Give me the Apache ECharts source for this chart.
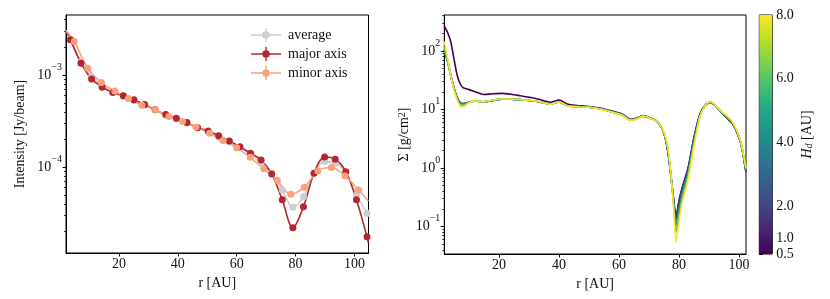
<!DOCTYPE html>
<html><head><meta charset="utf-8">
<script src="https://cdn.jsdelivr.net/npm/echarts@6/dist/echarts.min.js"></script>
<style>html,body{margin:0;padding:0;background:#fff}#c{width:830px;height:299px}</style>
</head><body><div id="c"></div>
<script>
// ---------- left panel: intensity profiles ----------
const majorR = [3.5, 7.1, 10.7, 14.3, 17.9, 21.5, 25.1, 28.7, 32.3, 35.9, 39.5, 43.1, 46.7, 50.3, 53.9, 57.5, 61.1, 64.7, 68.3, 71.9, 75.5, 79.1, 82.7, 86.3, 89.9, 93.5, 97.1, 100.7, 104.3];
const majorI = [2.42e-3, 1.35e-3, 9.06e-4, 7.41e-4, 6.47e-4, 5.96e-4, 5.40e-4, 4.79e-4, 4.20e-4, 3.73e-4, 3.41e-4, 3.05e-4, 2.69e-4, 2.48e-4, 2.20e-4, 1.93e-4, 1.67e-4, 1.42e-4, 1.20e-4, 8.45e-5, 4.42e-5, 2.20e-5, 3.73e-5, 8.61e-5, 1.29e-4, 1.22e-4, 8.95e-5, 4.42e-5, 1.76e-5];
const averageI = [2.45e-3, 1.40e-3, 9.6e-4, 7.7e-4, 6.6e-4, 5.85e-4, 5.3e-4, 4.75e-4, 4.2e-4, 3.7e-4, 3.35e-4, 3.0e-4, 2.68e-4, 2.42e-4, 2.12e-4, 1.88e-4, 1.63e-4, 1.37e-4, 1.10e-4, 8.6e-5, 5.66e-5, 3.67e-5, 4.78e-5, 8.6e-5, 1.15e-4, 1.10e-4, 8.6e-5, 5.0e-5, 3.16e-5];
const minorR = [4.8, 9.4, 14.0, 18.6, 23.2, 27.8, 32.4, 37.0, 41.6, 46.2, 50.8, 55.4, 60.0, 64.6, 69.2, 73.8, 78.4, 83.0, 87.6, 92.2, 96.8, 101.4];
const minorI = [2.32e-3, 1.19e-3, 8.31e-4, 6.72e-4, 5.57e-4, 4.72e-4, 4.20e-4, 3.55e-4, 3.13e-4, 2.72e-4, 2.34e-4, 1.95e-4, 1.63e-4, 1.28e-4, 9.6e-5, 7.15e-5, 5.09e-5, 6.07e-5, 9.12e-5, 9.91e-5, 8.04e-5, 5.66e-5];
// curve values where the lines leave the frame (left edge r=2, right edge r=104.8)
const edgeR = [2, 104.8];
const majorEdge = [3.05e-3, 1.5e-5];
const averageEdge = [3.05e-3, 2.9e-5];
const minorEdge = [3.05e-3, 4.3e-5];
const seriesNames = ['average', 'major axis', 'minor axis'];

// ---------- right panel: surface density for several H_d ----------
const sigmaR = [1.8, 3, 4, 5, 6, 7, 8, 10, 12, 15, 18, 21, 24, 27, 30, 33, 35, 37, 40, 43, 46, 50, 54, 58, 61, 64, 66, 68, 71, 73, 75, 76.5, 78, 79, 80, 81, 83, 85, 87, 89, 90.5, 92, 94, 96, 98, 100, 101, 102.3];
const hdValues = [0.5, 1, 2, 4, 6, 8];
const sigmaHd05 = [265, 200, 140, 74, 40, 28, 23.5, 21.8, 20, 18, 18.5, 18.8, 18.2, 17.2, 16.2, 15.1, 14.0, 13.3, 14.4, 12.2, 11.7, 11.2, 10.5, 9.3, 8.4, 6.8, 7.2, 7.85, 7.0, 6.1, 4.0, 1.6, 0.36, 0.15, 0.28, 0.45, 1.0, 3.4, 8.4, 12.3, 13.3, 11.8, 9.2, 7.3, 5.6, 3.3, 2.1, 0.85];
const sigmaHd1 = [105, 66, 38, 24, 16.5, 13.3, 12.6, 13.3, 13.9, 13.5, 14.3, 15.0, 15.0, 14.7, 14.2, 13.7, 12.9, 12.3, 13.4, 11.5, 11.2, 10.9, 10.2, 9.0, 8.1, 6.6, 7.0, 7.7, 6.9, 6.0, 3.9, 1.6, 0.35, 0.14, 0.27, 0.44, 0.97, 3.3, 8.3, 12.2, 13.2, 11.7, 9.0, 7.1, 5.5, 3.3, 2.1, 0.85];
const sigmaHd2 = [102, 64, 37, 23.5, 16.2, 13.1, 12.5, 13.2, 13.9, 13.5, 14.3, 15.0, 15.0, 14.7, 14.2, 13.7, 12.9, 12.3, 13.4, 11.5, 11.2, 10.9, 10.2, 9.0, 8.1, 6.6, 7.0, 7.7, 6.9, 6.0, 3.9, 1.6, 0.34, 0.13, 0.25, 0.42, 0.93, 3.2, 8.2, 12.2, 13.2, 11.7, 9.0, 7.1, 5.5, 3.3, 2.1, 0.85];
const sigmaHd4 = [98, 62, 36, 23, 16, 13, 12.5, 13.2, 13.9, 13.5, 14.3, 15.0, 15.0, 14.7, 14.2, 13.7, 12.9, 12.3, 13.4, 11.5, 11.2, 10.9, 10.2, 9.0, 8.1, 6.6, 7.0, 7.7, 6.9, 6.0, 4.0, 1.7, 0.33, 0.105, 0.2, 0.36, 0.85, 3.0, 8.0, 12.2, 13.3, 11.8, 9.1, 7.2, 5.6, 3.4, 2.15, 0.9];
const sigmaHd6 = [115, 66, 36, 22.5, 15.5, 12.3, 11.8, 13.2, 14.0, 13.5, 14.4, 15.0, 15.0, 14.7, 14.2, 13.7, 12.9, 12.3, 13.4, 11.5, 11.2, 10.9, 10.2, 9.0, 8.1, 6.6, 7.0, 7.7, 6.9, 6.0, 4.0, 1.75, 0.31, 0.08, 0.16, 0.3, 0.75, 2.7, 7.8, 12.2, 13.4, 11.9, 9.2, 7.5, 5.8, 3.4, 2.15, 0.95];
const sigmaHd8 = [145, 70, 37, 22, 14.8, 11.5, 11.0, 13.0, 14.0, 13.5, 14.5, 15.1, 15.1, 14.8, 14.3, 13.8, 12.9, 12.2, 13.5, 11.4, 11.1, 10.9, 10.1, 8.9, 8.0, 6.5, 6.9, 7.7, 6.9, 6.1, 4.1, 1.9, 0.29, 0.054, 0.12, 0.25, 0.63, 2.4, 7.6, 12.3, 13.5, 12.0, 9.3, 7.8, 5.9, 3.5, 2.2, 1.0];
const sigmaSets = [sigmaHd05, sigmaHd1, sigmaHd2, sigmaHd4, sigmaHd6, sigmaHd8];

// ---------- axis ticks ----------
const rTicks = [20, 40, 60, 80, 100];
const intensityMajorTicks = [1e-4, 1e-3];
const intensityMinorTicks = [2e-5, 3e-5, 4e-5, 5e-5, 6e-5, 7e-5, 8e-5, 9e-5, 2e-4, 3e-4, 4e-4, 5e-4, 6e-4, 7e-4, 8e-4, 9e-4, 2e-3, 3e-3, 4e-3];
const sigmaMajorTicks = [0.1, 1, 10, 100];
const sigmaMinorTicks = [0.04, 0.05, 0.06, 0.07, 0.08, 0.09, 0.2, 0.3, 0.4, 0.5, 0.6, 0.7, 0.8, 0.9, 2, 3, 4, 5, 6, 7, 8, 9, 20, 30, 40, 50, 60, 70, 80, 90, 200, 300, 400];
const cbTicks = [0.5, 1, 2, 4, 6, 8];
const cbRange = [0.5, 8];
const viridisStops = ['#440154', '#482475', '#414487', '#355f8d', '#2a788e', '#21918c', '#22a884', '#44bf70', '#7ad151', '#bddf26', '#fde725'];

// ---------- styling ----------
const FONT = 'Liberation Serif';
const TXT = '#111';
function viridis(t) {
  const n = viridisStops.length - 1;
  const x = Math.max(0, Math.min(1, t)) * n;
  const i = Math.min(Math.floor(x), n - 1), f = x - i;
  const a = viridisStops[i], b = viridisStops[i + 1];
  const c = k => Math.round(parseInt(a.substr(k, 2), 16) * (1 - f) + parseInt(b.substr(k, 2), 16) * f);
  return 'rgb(' + c(1) + ',' + c(3) + ',' + c(5) + ')';
}
const pow10Label = v => {
  const e = Math.round(Math.log10(v));
  return '{b|10}{s|' + (e < 0 ? '\u2212' + (-e) : e) + '}';
};
const richPow = {
  b: { fontFamily: FONT, fontSize: 14, color: TXT, padding: [6, 0, 6, 0] },
  s: { fontFamily: FONT, fontSize: 10, color: TXT, verticalAlign: 'top' }
};
const legendIcon = 'path://M0,6.3 h30 v1.4 h-30 z M14.3,0 h1.4 v14 h-1.4 z M11.3,7 a3.7,3.7 0 1,1 7.4,0 a3.7,3.7 0 1,1 -7.4,0 z';

function xAxisCfg(grid, min, max) {
  return {
    type: 'value', gridIndex: grid, min: min, max: max,
    name: 'r [AU]', nameLocation: 'middle', nameGap: 23,
    nameTextStyle: { fontFamily: FONT, fontSize: 14, color: TXT },
    axisLine: { show: true, onZero: false, lineStyle: { color: '#000', width: 1 } },
    axisTick: { show: true, length: 3.5, customValues: rTicks, lineStyle: { color: '#000' } },
    axisLabel: { customValues: rTicks, margin: 4, fontFamily: FONT, fontSize: 14, color: TXT },
    splitLine: { show: false }
  };
}
function logYCfg(grid, min, max, majors, nameRich, nameText, gap) {
  return {
    type: 'log', logBase: 10, gridIndex: grid, min: min, max: max,
    name: nameText, nameLocation: 'middle', nameGap: gap,
    nameTextStyle: { fontFamily: FONT, fontSize: 14, color: TXT, rich: nameRich },
    axisLine: { show: true, lineStyle: { color: '#000', width: 1 } },
    axisTick: { show: true, length: 3.5, customValues: majors, lineStyle: { color: '#000' } },
    minorTick: { show: false },
    axisLabel: { margin: 4, customValues: majors, formatter: pow10Label, rich: richPow },
    splitLine: { show: false }, minorSplitLine: { show: false }
  };
}
function minorYCfg(grid, min, max, minors) {
  return {
    type: 'log', logBase: 10, gridIndex: grid, min: min, max: max, position: 'left',
    axisLine: { show: false },
    axisTick: { show: true, length: 2, customValues: minors, lineStyle: { color: '#000', width: 0.8 } },
    axisLabel: { show: false }, splitLine: { show: false }
  };
}

const leftColors = { 'average': '#cdcdcd', 'major axis': '#b3282e', 'minor axis': '#fca07c' };
function leftSeries(name, rArr, iArr, edge) {
  const data = [{ value: [edgeR[0], edge[0]], symbol: 'none' }];
  rArr.forEach((r, k) => data.push([r, iArr[k]]));
  data.push({ value: [edgeR[1], edge[1]], symbol: 'none' });
  return {
    name: name, type: 'line', xAxisIndex: 0, yAxisIndex: 0, data: data,
    smooth: 0.35, symbol: 'circle', symbolSize: 7, showSymbol: true,
    itemStyle: { color: leftColors[name] },
    lineStyle: { color: leftColors[name], width: 1.6 },
    emphasis: { disabled: true }, animation: false, z: 3
  };
}

const series = [
  leftSeries('average', majorR, averageI, averageEdge),
  leftSeries('major axis', majorR, majorI, majorEdge),
  leftSeries('minor axis', minorR, minorI, minorEdge)
];
sigmaSets.forEach((arr, k) => {
  const col = viridis((hdValues[k] - cbRange[0]) / (cbRange[1] - cbRange[0]));
  series.push({
    name: 'Hd=' + hdValues[k], type: 'line', xAxisIndex: 1, yAxisIndex: 1,
    data: sigmaR.map((r, j) => [r, arr[j]]), smooth: 0.25, showSymbol: false, symbol: 'none',
    lineStyle: { color: col, width: 1.6 }, itemStyle: { color: col },
    emphasis: { disabled: true }, animation: false, z: 3 + k
  });
});
series.push({
  type: 'custom', xAxisIndex: 2, yAxisIndex: 2, data: [cbRange], animation: false, silent: true,
  renderItem: function (params, api) {
    const p0 = api.coord([0, api.value(1)]);
    const p1 = api.coord([1, api.value(0)]);
    return {
      type: 'rect',
      shape: { x: p0[0], y: p0[1], width: p1[0] - p0[0], height: p1[1] - p0[1] },
      style: { fill: new echarts.graphic.LinearGradient(0, 1, 0, 0, viridisStops.map((c, i) => ({ offset: i / (viridisStops.length - 1), color: c }))) }
    };
  }
});

const chart = echarts.init(document.getElementById('c'), null, { renderer: 'canvas' });
chart.setOption({
  animation: false,
  backgroundColor: '#fff',
  grid: [
    { left: 66, top: 15, width: 302.5, height: 238, show: true, borderColor: '#000', borderWidth: 1, backgroundColor: 'transparent' },
    { left: 444.3, top: 15, width: 301.7, height: 239, show: true, borderColor: '#000', borderWidth: 1, backgroundColor: 'transparent' },
    { left: 759.3, top: 15, width: 13, height: 239, show: true, borderColor: '#000', borderWidth: 1, backgroundColor: 'transparent' }
  ],
  legend: {
    data: seriesNames, orient: 'vertical', left: 246, top: 23, itemGap: 5,
    itemWidth: 30, itemHeight: 14, icon: legendIcon,
    textStyle: { fontFamily: FONT, fontSize: 14, color: TXT, padding: [0, 0, 0, 2] }
  },
  xAxis: [
    xAxisCfg(0, 2, 104.8),
    xAxisCfg(1, 1.8, 102.3),
    { type: 'value', gridIndex: 2, min: 0, max: 1, show: false }
  ],
  yAxis: [
    logYCfg(0, 1.17e-5, 4.5e-3, intensityMajorTicks, {}, 'Intensity [Jy/beam]', 39),
    logYCfg(1, 0.034, 410, sigmaMajorTicks, {
      t: { fontFamily: FONT, fontSize: 14, color: TXT },
      s: { fontFamily: FONT, fontSize: 10, color: TXT, verticalAlign: 'top' }
    }, '{t|\u03a3 [g/cm}{s|2}{t|]}', 27),
    {
      type: 'value', gridIndex: 2, min: cbRange[0], max: cbRange[1], position: 'right',
      name: '{i|H}{d|d}{t| [AU]}', nameLocation: 'middle', nameGap: 28, nameRotate: 90,
      nameTextStyle: { fontFamily: FONT, fontSize: 14, color: TXT, rich: {
        i: { fontFamily: FONT, fontStyle: 'italic', fontSize: 14, color: TXT },
        d: { fontFamily: FONT, fontStyle: 'italic', fontSize: 10, color: TXT, verticalAlign: 'bottom', padding: [4, 0, 0, 0] },
        t: { fontFamily: FONT, fontSize: 14, color: TXT } } },
      axisLine: { show: false },
      axisTick: { show: true, length: 3.5, customValues: cbTicks, lineStyle: { color: '#000' } },
      axisLabel: { customValues: cbTicks, margin: 4, fontFamily: FONT, fontSize: 14, color: TXT, formatter: v => Number(v).toFixed(1) },
      splitLine: { show: false }
    },
    minorYCfg(0, 1.17e-5, 4.5e-3, intensityMinorTicks),
    minorYCfg(1, 0.034, 410, sigmaMinorTicks)
  ],
  series: series
});
</script></body></html>
